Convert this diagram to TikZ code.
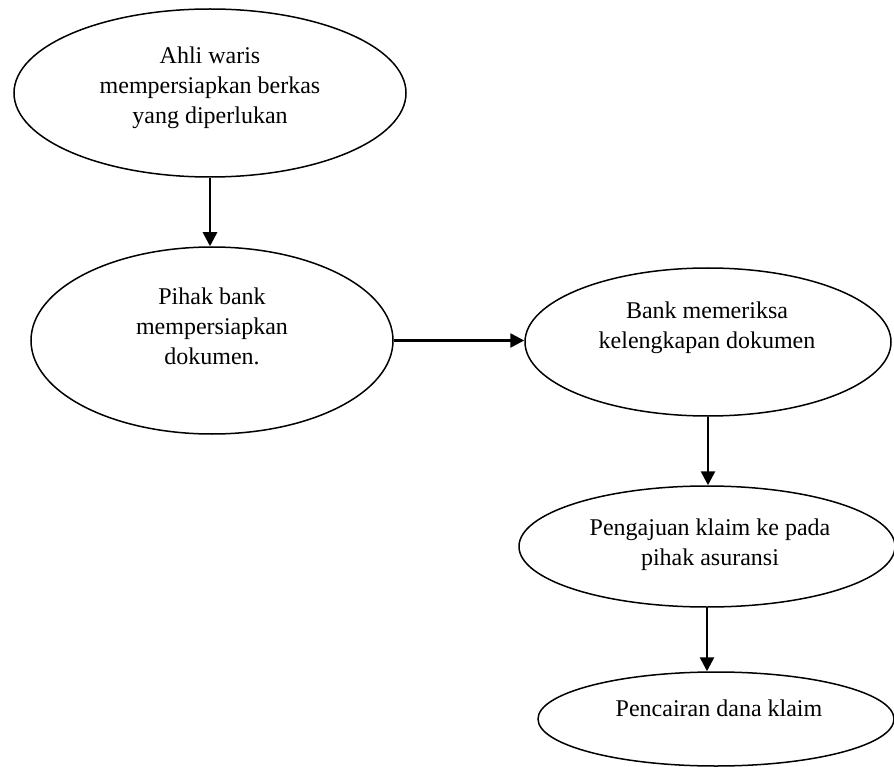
\documentclass[tikz,border=0pt]{standalone}
\usepackage{fontspec}
\setmainfont{Liberation Serif}
\usetikzlibrary{shapes.geometric,arrows.meta,calc}
\begin{document}
\begin{tikzpicture}[x=1pt,y=-1pt,
  oval/.style={ellipse,draw=black,line width=1.5pt,inner sep=0pt,fill=none},
  label/.style={align=center,inner sep=0pt,font=\fontsize{24pt}{30pt}\selectfont},
  flow/.style={line width=2.6pt,-{Triangle[length=14pt,width=14pt]}}]
\useasboundingbox (0,0) rectangle (894,767);
\fill[white] (0,0) rectangle (894,767);
% ellipses
\node[oval,minimum width=392pt,minimum height=168pt] (e1) at (210,93) {};
\node[oval,minimum width=362pt,minimum height=187pt] (e2) at (212,340.5) {};
\node[oval,minimum width=366pt,minimum height=148pt] (e3) at (708,342) {};
\node[oval,minimum width=376pt,minimum height=121pt] (e4) at (707,546.5) {};
\node[oval,minimum width=356pt,minimum height=94pt] (e5) at (716,719) {};
% texts
\node[label] (t1) at (210,88) {Ahli waris\\mempersiapkan berkas\\yang diperlukan};
\node[label] (t2) at (212,326) {Pihak bank\\mempersiapkan\\dokumen.};
\node[label] (t3) at (707,327.5) {Bank memeriksa\\kelengkapan dokumen};
\node[label] (t4) at (710,545) {Pengajuan klaim ke pada\\pihak asuransi};
\node[label] (t5) at (719,708.5) {Pencairan dana klaim};
% connectors
\draw[flow] (e1.south) -- (e1.south |- e2.north);
\draw[flow] (e2.east) -- (e2.east -| e3.west);
\draw[flow] (e3.south) -- (e3.south |- e4.north);
\draw[flow] (e4.south) -- (e4.south |- e5.north);
\end{tikzpicture}
\end{document}
